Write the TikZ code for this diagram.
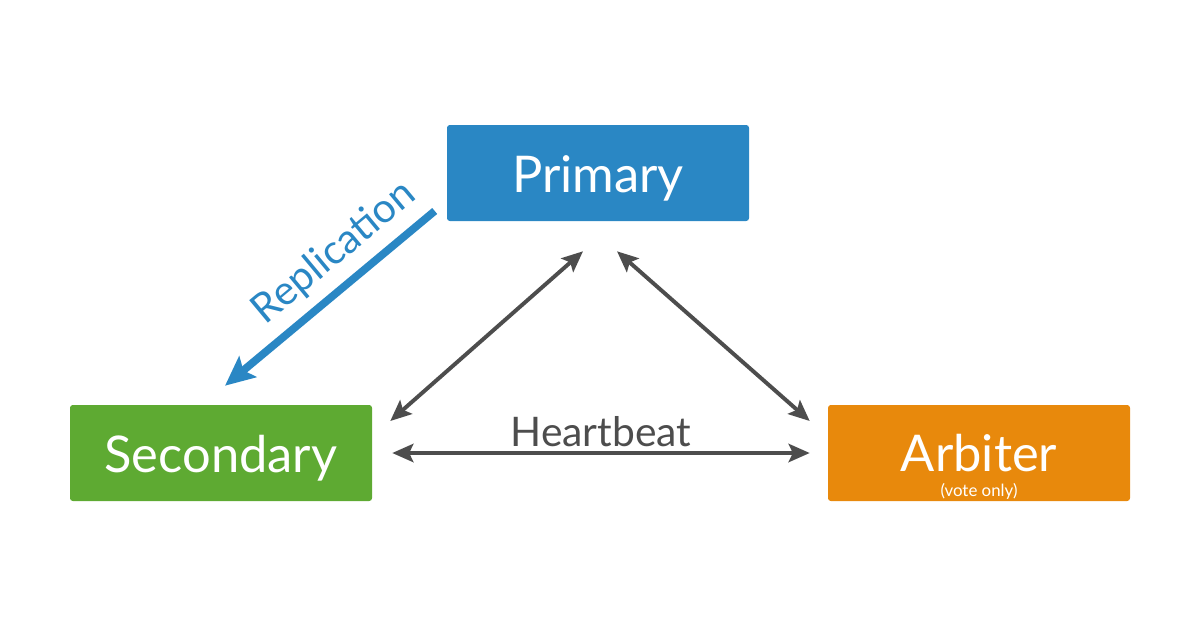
\documentclass[tikz,border=0pt]{standalone}
\usepackage{fontspec}
\setmainfont{Lato}
\usetikzlibrary{positioning, arrows.meta, calc}
\definecolor{primblue}{HTML}{2A87C4}
\definecolor{secgreen}{HTML}{5EAA32}
\definecolor{arborange}{HTML}{E8890C}
\definecolor{linegray}{HTML}{4D4D4D}
\newcommand{\lowered}[2]{\raisebox{-#1}[\height][\depth]{#2}}
\begin{document}
\begin{tikzpicture}
    \tikzset{
      member/.style={rounded corners=2pt, minimum width=7.55cm, minimum height=2.4cm,
        text=white, font=\fontsize{36}{40}\selectfont, inner sep=0pt},
      beat/.style={draw=linegray, line width=2.8pt,
        {Stealth[length=15pt, width=13pt, inset=3pt]}-{Stealth[length=15pt, width=13pt, inset=3pt]}},
      repl/.style={draw=primblue, line width=5.5pt,
        -{Stealth[length=21pt, width=19pt, inset=4pt]}}
    }
    \useasboundingbox (0,0) rectangle (30,-15.7);
    \node[member, fill=primblue] (primary) at (14.95,-4.325) {\lowered{4pt}{Primary}};
    \node[member, fill=secgreen] (secondary) at (5.525,-11.325) {\lowered{4pt}{Secondary}};
    \node[member, fill=arborange, align=center] (arbiter) at (24.475,-11.325)
      {\lowered{10pt}{Arbiter}\\[-22pt]\lowered{10pt}{\fontsize{12}{14}\selectfont (vote only)}};
    % arrow ends
    \coordinate (pl) at ($(primary.south)+(-0.375,-0.75)$);
    \coordinate (pr) at ($(primary.south)+(0.475,-0.75)$);
    \coordinate (sn) at ($(secondary.east)+(0.45,0.8)$);
    \coordinate (se) at ($(secondary.east)+(0.5,0)$);
    \coordinate (an) at ($(arbiter.west)+(-0.45,0.8)$);
    \coordinate (aw) at ($(arbiter.west)+(-0.45,0)$);
    \coordinate (rs) at ($(primary.west)+(-0.3,-0.95)$);
    \coordinate (re) at ($(secondary.north)+(0.1,0.475)$);
    \draw[beat] (pl) -- (sn);
    \draw[beat] (pr) -- (an);
    \draw[beat] (se) -- node[above, text=linegray, font=\fontsize{29}{32}\selectfont, inner sep=3pt] (hb) {Heartbeat} (aw);
    \draw[repl] (rs) -- node[pos=0.38, sloped, above, text=primblue, font=\fontsize{29}{32}\selectfont, inner sep=7pt] (rl) {Replication} (re);
\end{tikzpicture}
\end{document}
